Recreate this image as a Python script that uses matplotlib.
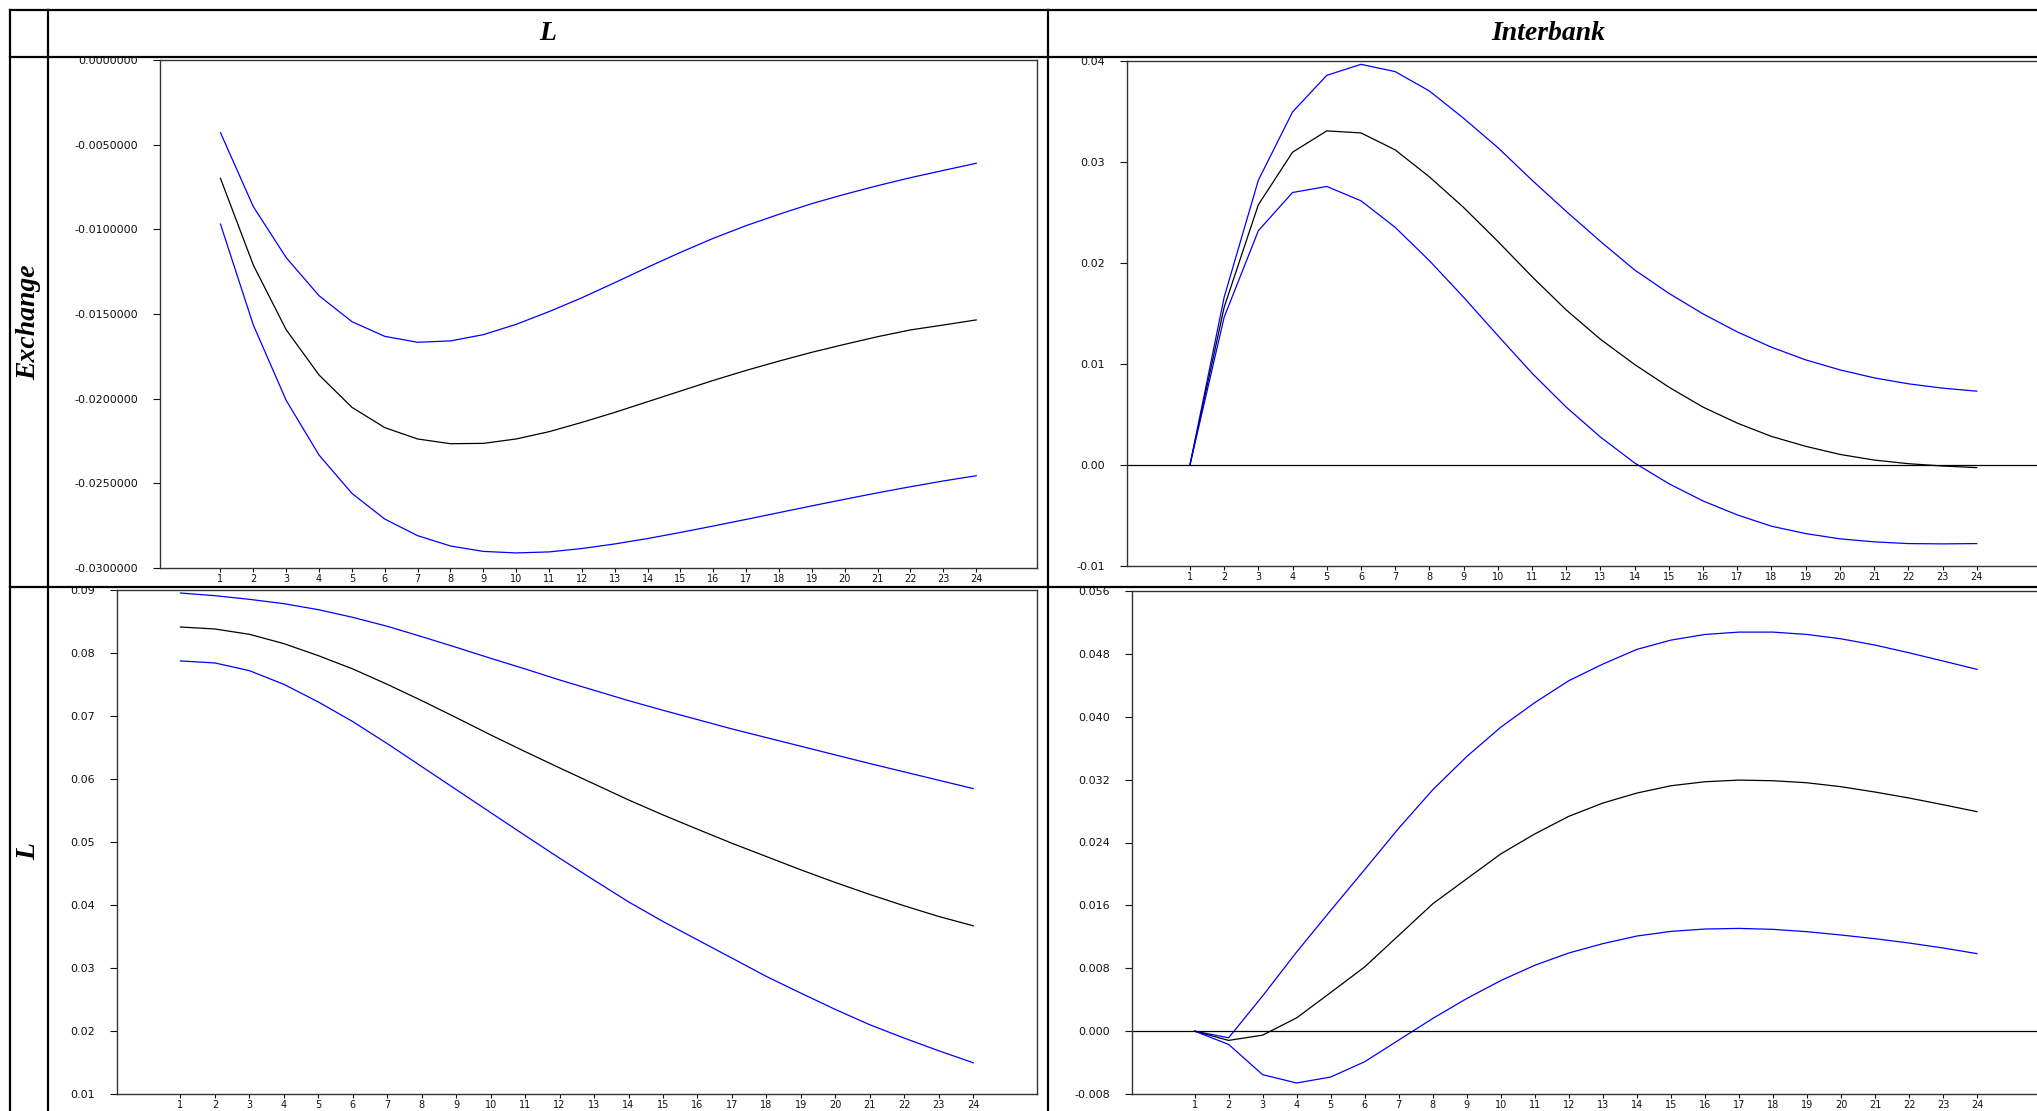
import matplotlib
matplotlib.use("Agg")
import matplotlib.pyplot as plt

# ---------- data: impulse responses (24 periods) ----------
periods = list(range(1, 25))

# Exchange row, L column
ex_l_upper = [-0.00429, -0.00866, -0.01167, -0.01392, -0.01545, -0.01632, -0.01667, -0.01659,
              -0.01622, -0.01561, -0.01486, -0.01404, -0.01315, -0.01224, -0.01136, -0.01053,
              -0.00978, -0.00911, -0.00848, -0.00793, -0.00742, -0.00695, -0.00652, -0.00610]
ex_l_mid = [-0.00699, -0.01211, -0.01593, -0.01860, -0.02051, -0.02171, -0.02238, -0.02266,
            -0.02264, -0.02238, -0.02195, -0.02140, -0.02081, -0.02018, -0.01955, -0.01892,
            -0.01833, -0.01778, -0.01726, -0.01679, -0.01634, -0.01594, -0.01565, -0.01535]
ex_l_lower = [-0.00969, -0.01565, -0.02010, -0.02333, -0.02559, -0.02711, -0.02809, -0.02870,
              -0.02902, -0.02911, -0.02905, -0.02885, -0.02858, -0.02826, -0.02790, -0.02752,
              -0.02713, -0.02673, -0.02633, -0.02594, -0.02556, -0.02520, -0.02486, -0.02455]

# Exchange row, Interbank column
ex_ib_upper = [0.0, 0.01661, 0.02820, 0.03496, 0.03858, 0.03967, 0.03895, 0.03703,
               0.03433, 0.03143, 0.02820, 0.02511, 0.02214, 0.01931, 0.01700, 0.01496,
               0.01318, 0.01166, 0.01041, 0.00942, 0.00863, 0.00804, 0.00761, 0.00731]
ex_ib_mid = [0.0, 0.01562, 0.02577, 0.03097, 0.03308, 0.03288, 0.03120, 0.02853,
             0.02550, 0.02214, 0.01865, 0.01535, 0.01245, 0.00995, 0.00771, 0.00573,
             0.00415, 0.00283, 0.00185, 0.00105, 0.00049, 0.00013, -0.00010, -0.00026]
ex_ib_lower = [0.0, 0.01463, 0.02320, 0.02698, 0.02758, 0.02616, 0.02353, 0.02023,
               0.01661, 0.01282, 0.00909, 0.00573, 0.00277, 0.00020, -0.00185, -0.00356,
               -0.00494, -0.00606, -0.00679, -0.00731, -0.00761, -0.00778, -0.00781, -0.00778]

# L row, L column
l_l_upper = [0.08952, 0.08910, 0.08852, 0.08783, 0.08688, 0.08566, 0.08424, 0.08260,
             0.08090, 0.07916, 0.07747, 0.07572, 0.07408, 0.07244, 0.07091, 0.06943,
             0.06795, 0.06657, 0.06520, 0.06382, 0.06245, 0.06113, 0.05980, 0.05848]
l_l_mid = [0.08413, 0.08381, 0.08297, 0.08149, 0.07958, 0.07747, 0.07503, 0.07244,
           0.06975, 0.06700, 0.06435, 0.06176, 0.05922, 0.05668, 0.05430, 0.05203,
           0.04980, 0.04769, 0.04558, 0.04357, 0.04167, 0.03987, 0.03818, 0.03670]
l_l_lower = [0.07874, 0.07842, 0.07720, 0.07503, 0.07223, 0.06911, 0.06562, 0.06197,
             0.05832, 0.05467, 0.05103, 0.04743, 0.04394, 0.04050, 0.03738, 0.03447,
             0.03157, 0.02866, 0.02601, 0.02342, 0.02099, 0.01887, 0.01686, 0.01496]

# L row, Interbank column
l_ib_upper = [0.0, -0.00085, 0.00448, 0.01007, 0.01536, 0.02056, 0.02581, 0.03071,
              0.03494, 0.03867, 0.04180, 0.04459, 0.04670, 0.04857, 0.04975, 0.05047,
              0.05077, 0.05077, 0.05047, 0.04992, 0.04912, 0.04814, 0.04709, 0.04603]
l_ib_mid = [0.0, -0.00118, -0.00051, 0.00169, 0.00491, 0.00817, 0.01218, 0.01620,
            0.01938, 0.02255, 0.02509, 0.02733, 0.02902, 0.03029, 0.03122, 0.03173,
            0.03194, 0.03186, 0.03160, 0.03110, 0.03042, 0.02966, 0.02881, 0.02792]
l_ib_lower = [0.0, -0.00169, -0.00554, -0.00660, -0.00584, -0.00389, -0.00114, 0.00161,
              0.00415, 0.00643, 0.00838, 0.00994, 0.01113, 0.01210, 0.01269, 0.01299,
              0.01307, 0.01295, 0.01265, 0.01223, 0.01176, 0.01121, 0.01058, 0.00986]

# tick values per panel
ex_l_ticks = [0.0, -0.005, -0.010, -0.015, -0.020, -0.025, -0.030]
ex_ib_ticks = [0.04, 0.03, 0.02, 0.01, 0.00, -0.01]
l_l_ticks = [0.09, 0.08, 0.07, 0.06, 0.05, 0.04, 0.03, 0.02, 0.01]
l_ib_ticks = [0.056, 0.048, 0.040, 0.032, 0.024, 0.016, 0.008, 0.000, -0.008]

col_labels = ["L", "Interbank"]
row_labels = ["Exchange", "L"]

W, H = 2037, 1111
fig = plt.figure(figsize=(W / 100, H / 100), dpi=100)

# ---------- table grid (pixel coords) ----------
bg = fig.add_axes([0, 0, 1, 1])
bg.set_xlim(0, W)
bg.set_ylim(H, 0)
bg.axis("off")
lw_tab = 1.6
bg.plot([10, W], [10, 10], color="black", lw=lw_tab)
bg.plot([10, W], [57, 57], color="black", lw=lw_tab)
bg.plot([10, W], [587, 587], color="black", lw=lw_tab)
for xv in [10, 48, 1048]:
    bg.plot([xv, xv], [10, H], color="black", lw=lw_tab)

head_font = dict(family="Liberation Serif", weight="bold", style="italic", size=20)
bg.text(548, 34, col_labels[0], ha="center", va="center", **head_font)
bg.text(1548, 34, col_labels[1], ha="center", va="center", **head_font)
bg.text(29, 322, row_labels[0], ha="center", va="center", rotation=90, **head_font)
bg.text(29, 851, row_labels[1], ha="center", va="center", rotation=90, **head_font)


def panel(px, upper, mid, lower, yticks, fmt, zero_line):
    L, R, T, B = px
    ax = fig.add_axes([L / W, 1 - B / H, (R - L) / W, (B - T) / H])
    ax.set_facecolor("none")
    ax.plot(periods, upper, color="#0000ff", lw=0.9)
    ax.plot(periods, mid, color="black", lw=0.9)
    ax.plot(periods, lower, color="#0000ff", lw=0.9)
    if zero_line:
        ax.axhline(0, color="black", lw=0.9)
    ax.set_xlim(-0.84, 25.85)
    ax.set_ylim(min(yticks), max(yticks))
    ax.set_xticks(periods)
    ax.set_xticklabels([str(p) for p in periods])
    ax.set_yticks(yticks)
    ax.set_yticklabels([fmt % abs(v) if v == 0 else fmt % v for v in yticks])
    for s in ax.spines.values():
        s.set_color("#333333")
        s.set_linewidth(1.0)
    ax.tick_params(axis="x", direction="out", length=3, width=0.8, pad=1.5,
                   labelsize=7, colors="#111111")
    ax.tick_params(axis="y", direction="out", length=5, width=0.8, pad=11,
                   labelsize=8, colors="#111111")
    for lab in ax.get_xticklabels() + ax.get_yticklabels():
        lab.set_family("DejaVu Sans")
    return ax


panel((160, 1037, 60, 568), ex_l_upper, ex_l_mid, ex_l_lower, ex_l_ticks, "%.7f", False)
panel((1127, 2040, 61, 566), ex_ib_upper, ex_ib_mid, ex_ib_lower, ex_ib_ticks, "%.2f", True)
panel((117, 1037, 590, 1094), l_l_upper, l_l_mid, l_l_lower, l_l_ticks, "%.2f", False)
panel((1132, 2040, 591, 1094), l_ib_upper, l_ib_mid, l_ib_lower, l_ib_ticks, "%.3f", True)

fig.savefig("out.png", dpi=100, facecolor="white")
